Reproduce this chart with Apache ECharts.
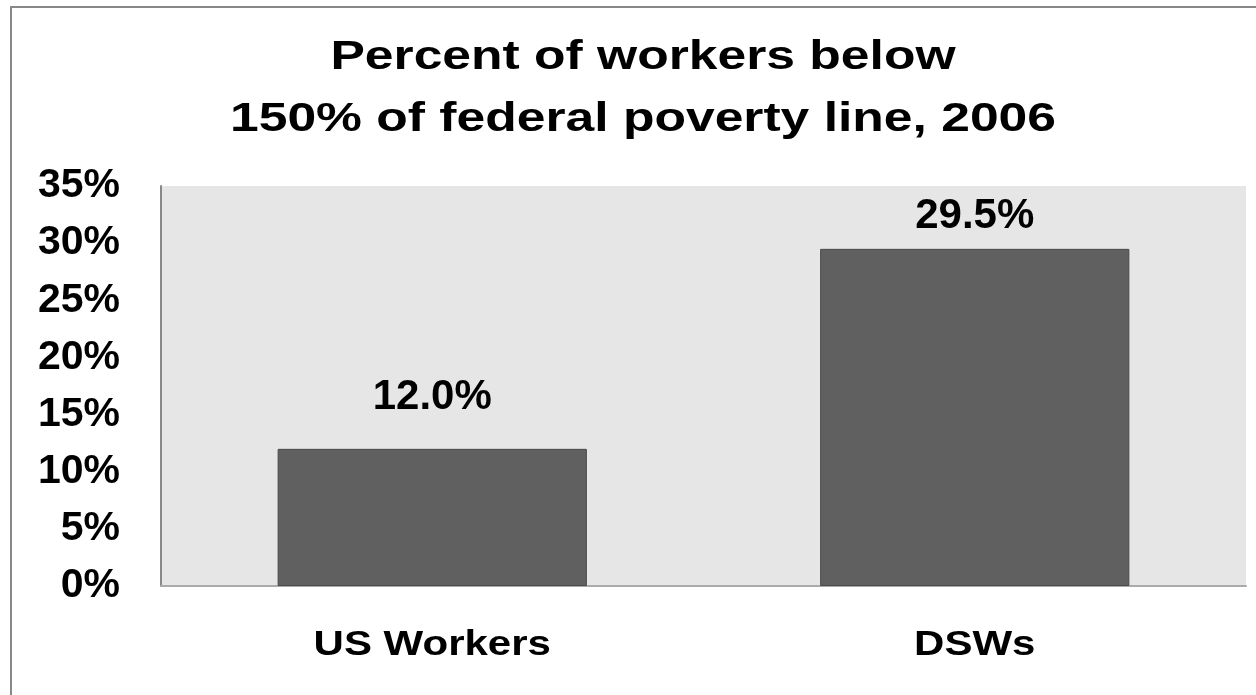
<!DOCTYPE html>
<html><head><meta charset="utf-8">
<script src="https://cdn.jsdelivr.net/npm/echarts@6/dist/echarts.min.js"></script>
<style>html,body{margin:0;padding:0;background:#fff}#c{width:1256px;height:695px}</style>
</head><body><div id="c"></div>
<script>
const titleLines = ["Percent of workers below", "150% of federal poverty line, 2006"];
const categories = ["US Workers", "DSWs"];
const values = [12.0, 29.5];
const yTicks = [0, 5, 10, 15, 20, 25, 30, 35];

const chart = echarts.init(document.getElementById('c'), null, {renderer: 'canvas'});
const font = '"Liberation Sans", Arial, sans-serif';
const yMax = yTicks[yTicks.length - 1];

// labels are kept inside the plot area (like the original): tall bars get a smaller gap
const barData = values.map(v => ({
  value: v,
  label: {distance: v > yMax * 0.8 ? 11 : 30}
}));

const option = {
  animation: false,
  backgroundColor: '#ffffff',
  grid: {left: 161, top: 186, width: 1085, height: 400, show: true, backgroundColor: '#e6e6e6', borderWidth: 0},
  xAxis: {
    type: 'category', data: categories,
    axisLine: {show: true, lineStyle: {color: '#aaa', width: 2}},
    axisTick: {show: false},
    axisLabel: {show: false}
  },
  yAxis: {
    type: 'value', min: yTicks[0], max: yMax, interval: 5,
    axisLine: {show: true, lineStyle: {color: '#888', width: 2}},
    axisTick: {show: false},
    splitLine: {show: false},
    axisLabel: {fontFamily: font, fontWeight: 'bold', fontSize: 41, color: '#000', margin: 41,
      formatter: v => v + '%'}
  },
  series: [{
    type: 'bar', data: barData, barWidth: '57%',
    itemStyle: {color: '#606060', borderColor: '#4a4a4a', borderWidth: 1},
    label: {show: true, position: 'top', distance: 30, fontFamily: font, fontWeight: 'bold',
      fontSize: 42, color: '#000', formatter: p => p.value.toFixed(1) + '%'}
  }]
};
chart.setOption(option);

const graphics = [{
  type: 'rect', shape: {x: 11, y: 7, width: 1300, height: 800},
  style: {fill: 'none', stroke: '#888', lineWidth: 2}, z: 100, silent: true
}];
const titleY = [58, 120];
titleLines.forEach((t, i) => {
  graphics.push({
    type: 'text', x: 643, y: titleY[i], scaleX: 1.29, silent: true,
    style: {text: t, font: 'bold 40px ' + font, fill: '#000', align: 'center', verticalAlign: 'middle'}
  });
});
categories.forEach(c => {
  const px = chart.convertToPixel({xAxisIndex: 0}, c);
  graphics.push({
    type: 'text', x: px, y: 645, scaleX: 1.2, silent: true,
    style: {text: c, font: 'bold 35px ' + font, fill: '#000', align: 'center', verticalAlign: 'middle'}
  });
});
chart.setOption({graphic: graphics});
</script></body></html>
